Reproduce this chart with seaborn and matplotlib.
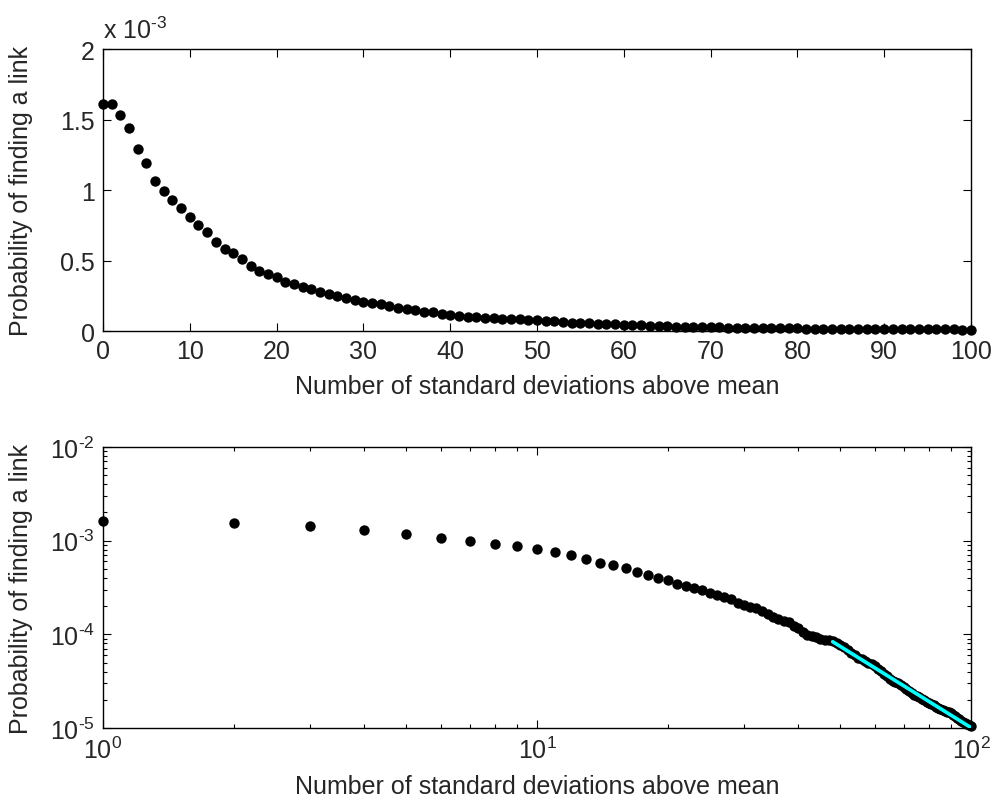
import numpy as np
import pandas as pd
import matplotlib
matplotlib.use("Agg")
import matplotlib.pyplot as plt
from matplotlib.ticker import FuncFormatter, MultipleLocator, LogLocator
import seaborn as sns

# Number of standard deviations above the mean (0..100)
deviations = list(range(0, 101))

# Probability of finding a link at each threshold
probability = [
    1.61e-3, 1.61e-3, 1.53e-3, 1.44e-3, 1.29e-3, 1.19e-3, 1.065e-3, 0.99e-3, 0.932e-3, 0.87e-3,
    0.812e-3, 0.75e-3, 0.70e-3, 0.632e-3, 0.58e-3, 0.55e-3, 0.508e-3, 0.463e-3, 0.428e-3, 0.402e-3,
    0.38e-3, 0.346e-3, 0.331e-3, 0.31e-3, 0.296e-3, 0.276e-3, 0.263e-3, 0.249e-3, 0.236e-3, 0.218e-3,
    0.206e-3, 0.197e-3, 0.191e-3, 0.179e-3, 0.166e-3, 0.153e-3, 0.147e-3, 0.138e-3, 0.134e-3, 0.124e-3,
    0.116e-3, 0.107e-3, 0.0985e-3, 0.0965e-3, 0.093e-3, 0.0895e-3, 0.088e-3, 0.086e-3, 8.45e-5, 8.15e-5,
    7.7e-5, 7.25e-5, 6.8e-5, 6.35e-5, 6.0e-5, 5.65e-5, 5.4e-5, 5.2e-5, 5.0e-5, 4.8e-5,
    4.55e-5, 4.3e-5, 4.05e-5, 3.8e-5, 3.55e-5, 3.35e-5, 3.2e-5, 3.1e-5, 3.0e-5, 2.88e-5,
    2.75e-5, 2.6e-5, 2.48e-5, 2.36e-5, 2.27e-5, 2.2e-5, 2.12e-5, 2.05e-5, 1.98e-5, 1.91e-5,
    1.84e-5, 1.79e-5, 1.74e-5, 1.69e-5, 1.64e-5, 1.6e-5, 1.56e-5, 1.53e-5, 1.5e-5, 1.47e-5,
    1.43e-5, 1.39e-5, 1.34e-5, 1.29e-5, 1.25e-5, 1.2e-5, 1.16e-5, 1.13e-5, 1.1e-5, 1.07e-5,
    1.04e-5,
]

# Power-law fit is done on the tail starting here
fit_start = 48

x_label = "Number of standard deviations above mean"
y_label = "Probability of finding a link"

df = pd.DataFrame({"dev": deviations, "p": probability})
log_df = df[df["dev"] >= 1]
tail = df[df["dev"] >= fit_start]

# least-squares fit of log10(p) against log10(dev) on the tail
slope, intercept = np.polyfit(np.log10(tail["dev"]), np.log10(tail["p"]), 1)
fit_df = pd.DataFrame({"dev": tail["dev"],
                       "p": 10 ** (intercept + slope * np.log10(tail["dev"]))})

sns.set_style("ticks")
plt.rcParams["font.family"] = ["Liberation Sans", "DejaVu Sans"]
plt.rcParams["mathtext.fontset"] = "custom"
plt.rcParams["mathtext.rm"] = "Liberation Sans"
plt.rcParams["mathtext.it"] = "Liberation Sans"
plt.rcParams["axes.unicode_minus"] = False

FS = 18


def pow10_label(v, _):
    e = int(round(np.log10(v)))
    return r"10$^{\text{%d}}$" % e


fig = plt.figure(figsize=(9.97, 8.12), dpi=100)
ax1 = fig.add_axes([0.1033, 0.5911, 0.8706, 0.3473])
ax2 = fig.add_axes([0.1033, 0.1022, 0.8706, 0.3461])

marker_size = 56

# linear plot
sns.scatterplot(data=df, x="dev", y="p", ax=ax1, color="black", s=marker_size,
                linewidth=0, clip_on=False, zorder=3)
ax1.set_xlim(0, 100)
ax1.set_ylim(0, 2e-3)
ax1.xaxis.set_major_locator(MultipleLocator(10))
ax1.yaxis.set_major_locator(MultipleLocator(0.5e-3))
ax1.yaxis.set_major_formatter(FuncFormatter(lambda v, _: f"{v * 1e3:g}"))
ax1.text(0.0, 1.02, r"x 10$^{\text{-3}}$", transform=ax1.transAxes, fontsize=FS,
         ha="left", va="bottom")

# log-log plot with the tail fit
sns.scatterplot(data=log_df, x="dev", y="p", ax=ax2, color="black", s=marker_size,
                linewidth=0, clip_on=False, zorder=3)
sns.lineplot(data=fit_df, x="dev", y="p", ax=ax2, color="#00FFFF", linewidth=2.6,
             zorder=4)
ax2.set_xscale("log")
ax2.set_yscale("log")
ax2.set_xlim(1, 100)
ax2.set_ylim(1e-5, 1e-2)
ax2.xaxis.set_major_locator(LogLocator(base=10, numticks=10))
ax2.yaxis.set_major_locator(LogLocator(base=10, numticks=10))
ax2.xaxis.set_minor_locator(LogLocator(base=10, subs=np.arange(2, 10), numticks=20))
ax2.yaxis.set_minor_locator(LogLocator(base=10, subs=np.arange(2, 10), numticks=20))
ax2.xaxis.set_major_formatter(FuncFormatter(pow10_label))
ax2.yaxis.set_major_formatter(FuncFormatter(pow10_label))

for ax in (ax1, ax2):
    ax.set_xlabel(x_label, fontsize=FS, labelpad=8)
    ax.set_ylabel(y_label, fontsize=FS, labelpad=8)
    ax.tick_params(which="both", direction="in", top=True, right=True,
                   labelsize=FS, color="black", width=0.8)
    ax.tick_params(which="major", length=6, pad=6)
    ax.tick_params(which="minor", length=3)
    for sp in ax.spines.values():
        sp.set_visible(True)
        sp.set_color("black")
        sp.set_linewidth(1.0)
    ax.set_facecolor("white")

ax1.yaxis.set_label_coords(-0.081, 0.5)
ax2.yaxis.set_label_coords(-0.081, 0.5)

fig.savefig("out.png", dpi=100, facecolor="white")
